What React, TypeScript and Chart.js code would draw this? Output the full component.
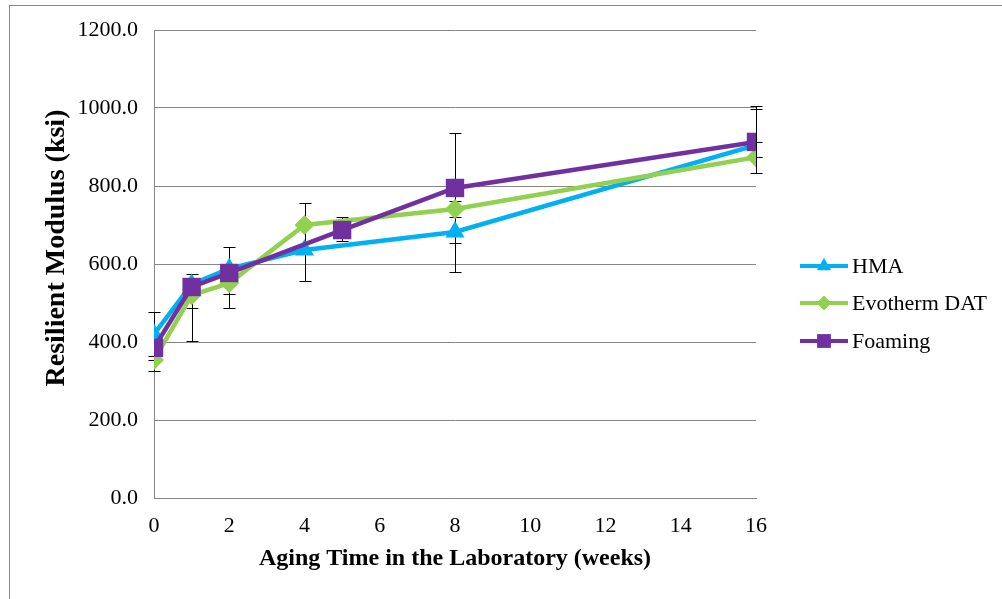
import React, { useEffect, useRef } from "react";
import { Chart, registerables } from "chart.js";

Chart.register(...registerables);

// ---- data ----
const seriesNames = ["HMA", "Evotherm DAT", "Foaming"];

const hmaWeeks = [0, 1, 2, 4, 8, 16];
const hmaValues = [420, 548, 588, 636, 682, 905];
const hmaErrLow = [363, 487, 523, 556, 580, 874];
const hmaErrHigh = [477, 574, 644, 756, 784, 997];

const evoWeeks = [0, 1, 2, 4, 8, 16];
const evoValues = [354, 520, 551, 700, 741, 874];
const evoErrLow = [326, 402, 487, null, 721, 833];
const evoErrHigh = [354, 520, 551, null, 762, 874];

const foamWeeks = [0, 1, 2, 5, 8, 16];
const foamValues = [385, 541, 577, 687, 795, 913];
const foamErrLow = [null, null, null, 660, 654, 913];
const foamErrHigh = [null, null, null, 720, 936, 1005];

const xTicks = [0, 2, 4, 6, 8, 10, 12, 14, 16];
const yTicks = [0, 200, 400, 600, 800, 1000, 1200];

const xTitle = "Aging Time in the Laboratory (weeks)";
const yTitle = "Resilient Modulus (ksi)";

const colors = ["#00B0F0", "#92D050", "#7030A0"];
const markerStyles = ["triangle", "rectRot", "rect"];
const markerRadius = [11, 10, 13];

const errLows = [hmaErrLow, evoErrLow, foamErrLow];
const errHighs = [hmaErrHigh, evoErrHigh, foamErrHigh];

const FONT = "'Liberation Serif', 'Times New Roman', serif";

function toPoints(xs: number[], ys: number[]) {
  return xs.map((x, i) => ({ x, y: ys[i] }));
}

const errorBarPlugin = {
  id: "errorBars",
  beforeDatasetsDraw(chart: any) {
    const { ctx, scales } = chart;
    const xs = scales.x;
    const ys = scales.y;
    ctx.save();
    ctx.strokeStyle = "#000000";
    ctx.lineWidth = 1;
    chart.data.datasets.forEach((ds: any, di: number) => {
      const lo = errLows[di];
      const hi = errHighs[di];
      ds.data.forEach((p: any, i: number) => {
        if (lo[i] == null || hi[i] == null) return;
        const px = Math.round(xs.getPixelForValue(p.x)) + 0.5;
        const y1 = Math.round(ys.getPixelForValue(lo[i] as number)) + 0.5;
        const y2 = Math.round(ys.getPixelForValue(hi[i] as number)) + 0.5;
        ctx.beginPath();
        ctx.moveTo(px, y1);
        ctx.lineTo(px, y2);
        ctx.moveTo(px - 6, y1);
        ctx.lineTo(px + 6, y1);
        ctx.moveTo(px - 6, y2);
        ctx.lineTo(px + 6, y2);
        ctx.stroke();
      });
    });
    ctx.restore();
  },
};

function drawMarker(ctx: CanvasRenderingContext2D, style: string, x: number, y: number, r: number) {
  ctx.beginPath();
  if (style === "triangle") {
    ctx.moveTo(x, y - r);
    ctx.lineTo(x + r * Math.sin((2 * Math.PI) / 3), y - r * Math.cos((2 * Math.PI) / 3));
    ctx.lineTo(x + r * Math.sin((4 * Math.PI) / 3), y - r * Math.cos((4 * Math.PI) / 3));
  } else if (style === "rectRot") {
    ctx.moveTo(x, y - r);
    ctx.lineTo(x + r, y);
    ctx.lineTo(x, y + r);
    ctx.lineTo(x - r, y);
  } else {
    const s = r * Math.SQRT1_2;
    ctx.rect(x - s, y - s, 2 * s, 2 * s);
  }
  ctx.closePath();
  ctx.fill();
}

const legendPlugin = {
  id: "customLegend",
  afterDraw(chart: any) {
    const { ctx } = chart;
    const x0 = 800;
    const x1 = 848;
    const rows = [266, 303, 341];
    ctx.save();
    chart.data.datasets.forEach((ds: any, i: number) => {
      const y = rows[i];
      ctx.strokeStyle = colors[i];
      ctx.lineWidth = 4;
      ctx.beginPath();
      ctx.moveTo(x0, y);
      ctx.lineTo(x1, y);
      ctx.stroke();
      ctx.fillStyle = colors[i];
      drawMarker(ctx, markerStyles[i], (x0 + x1) / 2, y, markerRadius[i] * 0.75);
      ctx.fillStyle = "#000000";
      ctx.font = `22px ${FONT}`;
      ctx.textBaseline = "middle";
      ctx.textAlign = "left";
      ctx.fillText(ds.label, 852, y + 1);
    });
    ctx.restore();
  },
};

const yTitlePlugin = {
  id: "yTitle",
  afterDraw(chart: any) {
    const { ctx } = chart;
    ctx.save();
    ctx.translate(57, 248);
    ctx.rotate(-Math.PI / 2);
    ctx.fillStyle = "#000000";
    ctx.font = `bold 28px ${FONT}`;
    ctx.textAlign = "center";
    ctx.textBaseline = "middle";
    ctx.fillText(yTitle, 0, 0);
    ctx.restore();
  },
};

export default function App() {
  const ref = useRef<HTMLCanvasElement | null>(null);

  useEffect(() => {
    if (!ref.current) return;
    const allX = [hmaWeeks, evoWeeks, foamWeeks];
    const allY = [hmaValues, evoValues, foamValues];
    const chart = new Chart(ref.current, {
      type: "line",
      data: {
        datasets: seriesNames.map((name, i) => ({
          label: name,
          data: toPoints(allX[i], allY[i]),
          borderColor: colors[i],
          backgroundColor: colors[i],
          borderWidth: 4.5,
          pointStyle: markerStyles[i] as any,
          pointRadius: markerRadius[i],
          pointBackgroundColor: colors[i],
          pointBorderColor: colors[i],
          pointBorderWidth: 0,
          tension: 0,
          fill: false,
          order: 3 - i,
        })),
      },
      options: {
        responsive: false,
        animation: false,
        events: [],
        layout: { padding: { left: 0, right: 246, top: 30, bottom: 0 } },
        plugins: {
          legend: { display: false },
          tooltip: { enabled: false },
        },
        scales: {
          x: {
            type: "linear",
            min: 0,
            max: 16,
            afterBuildTicks: (s: any) => {
              s.ticks = xTicks.map((v) => ({ value: v }));
            },
            afterFit: (s: any) => {
              s.height = 101;
            },
            grid: { display: false, drawTicks: false },
            border: { display: true, color: "#868686", width: 1 },
            ticks: {
              color: "#000000",
              font: { family: FONT, size: 22 },
              padding: 15,
              maxRotation: 0,
            },
            title: {
              display: true,
              text: xTitle,
              color: "#000000",
              font: { family: FONT, size: 24, weight: "bold" },
              padding: { top: 0, bottom: 26 },
            },
          },
          y: {
            type: "linear",
            min: 0,
            max: 1200,
            afterBuildTicks: (s: any) => {
              s.ticks = yTicks.map((v) => ({ value: v }));
            },
            afterFit: (s: any) => {
              s.width = 154;
            },
            grid: { color: "#868686", lineWidth: 1, drawTicks: false },
            border: { display: true, color: "#868686", width: 1 },
            ticks: {
              color: "#000000",
              font: { family: FONT, size: 22 },
              padding: 16,
              callback: (v: any) => Number(v).toFixed(1),
            },
            title: { display: false },
          },
        },
      },
      plugins: [errorBarPlugin, legendPlugin, yTitlePlugin],
    });
    return () => chart.destroy();
  }, []);

  return (
    <>
      <div
        style={{
          position: "fixed",
          left: 9,
          top: 5,
          right: 0,
          bottom: 0,
          borderLeft: "1px solid #8a8a8a",
          borderTop: "1px solid #8a8a8a",
          background: "#ffffff",
        }}
      />
      <canvas
        ref={ref}
        width={1002}
        height={599}
        style={{ position: "fixed", left: 0, top: 0, width: 1002, height: 599 }}
      />
    </>
  );
}
